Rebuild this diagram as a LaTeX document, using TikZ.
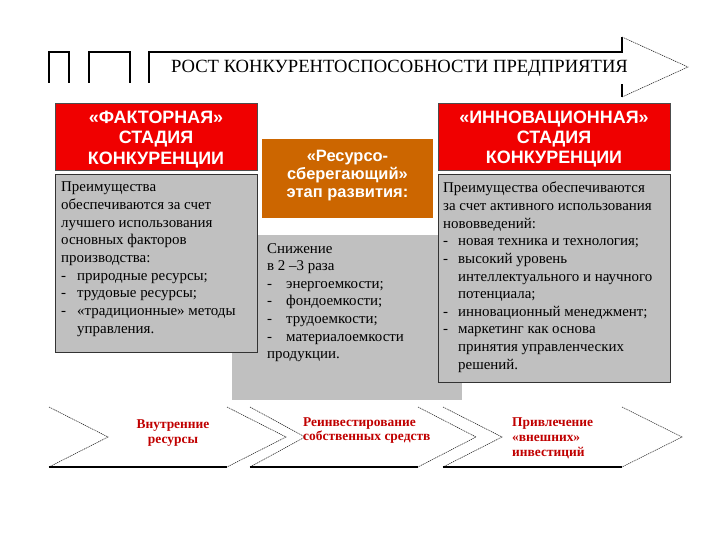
\documentclass[tikz,border=0pt]{standalone}
\usepackage{fontspec}
\setmainfont{Liberation Serif}
\newfontfamily\hsans{Liberation Sans}
\definecolor{hdred}{RGB}{240,0,0}
\definecolor{hdorange}{RGB}{204,102,0}
\definecolor{boxgray}{RGB}{192,192,192}
\definecolor{chevred}{RGB}{192,0,0}
\newcommand\itm[2]{\makebox[#1][l]{-}#2}
\begin{document}
\begin{tikzpicture}[x=1bp,y=-1bp,
  solidln/.style={line width=1.4bp, black},
  dotln/.style={line width=0.6bp, black!85, dash pattern=on 1.2bp off 0.8bp},
  boxnode/.style={inner sep=0, anchor=north west, outer sep=0},
  headtext/.style={inner sep=0, text=white, align=center, font=\hsans\bfseries\fontsize{18}{20.5}\selectfont},
  orangetext/.style={inner sep=0, text=white, align=center, font=\hsans\bfseries\fontsize{16.5}{18.5}\selectfont},
  bodytext/.style={inner sep=0, anchor=north west, align=left, font=\fontsize{15}{17.7}\selectfont},
  chevtext/.style={inner sep=0, text=chevred, font=\bfseries\fontsize{13.5}{15}\selectfont},
  titletext/.style={inner sep=0, font=\fontsize{18.7}{20}\selectfont}]
\useasboundingbox (0,0) rectangle (720,540);
% top arrow
\draw[solidln] (49,83) -- (49,52) -- (69,52) -- (69,83);
\draw[solidln] (89,83) -- (89,52) -- (130,52) -- (130,83);
\draw[solidln] (149,83) -- (149,52) -- (622,52) -- (622,37);
\draw[dotln] (622,37) -- (688,67) -- (622,97);
\draw[solidln] (622,97) -- (622,84);
\node[titletext] (title) at (399.5,68.5) {РОСТ КОНКУРЕНТОСПОСОБНОСТИ ПРЕДПРИЯТИЯ};
% middle gray background
\node[boxnode, fill=boxgray, minimum width=230bp, minimum height=165bp] (mg) at (232,235) {};
% left column
\node[boxnode, fill=hdred, draw=black!70, line width=0.8bp, minimum width=202bp, minimum height=67bp] (lr) at (55,103) {};
\node[headtext] (lrt) at (156,139.5) {«ФАКТОРНАЯ»\\СТАДИЯ\\КОНКУРЕНЦИИ};
\node[boxnode, fill=boxgray, draw=black!80, line width=0.9bp, minimum width=202bp, minimum height=178bp] (lg) at (55,174) {};
\node[bodytext] (lgt) at (61,182) {Преимущества\\обеспечиваются за счет\\лучшего использования\\основных факторов\\производства:\\\itm{16bp}{природные ресурсы;}\\\itm{16bp}{трудовые ресурсы;}\\\itm{16bp}{«традиционные» методы}\\\hspace*{16bp}управления.};
% middle column
\node[boxnode, fill=hdorange, minimum width=171bp, minimum height=79bp] (mo) at (262,139) {};
\node[orangetext] (mot) at (347.5,175.5) {«Ресурсо-\\сберегающий»\\этап развития:};
\node[bodytext] (mgt) at (267,243) {Снижение\\в 2 –3 раза\\\itm{19bp}{энергоемкости;}\\\itm{19bp}{фондоемкости;}\\\itm{19bp}{трудоемкости;}\\\itm{19bp}{материалоемкости}\\продукции.};
% right column
\node[boxnode, fill=hdred, draw=black!70, line width=0.8bp, minimum width=232bp, minimum height=67bp] (rr) at (438,103) {};
\node[headtext] (rrt) at (554,139) {«ИННОВАЦИОННАЯ»\\СТАДИЯ\\КОНКУРЕНЦИИ};
\node[boxnode, fill=boxgray, draw=black!80, line width=0.9bp, minimum width=232bp, minimum height=208bp] (rg) at (438,174) {};
\node[bodytext] (rgt) at (443,182) {Преимущества обеспечиваются\\за счет активного использования\\нововведений:\\\itm{15bp}{новая техника и технология;}\\\itm{15bp}{высокий уровень}\\\hspace*{15bp}интеллектуального и научного\\\hspace*{15bp}потенциала;\\\itm{15bp}{инновационный менеджмент;}\\\itm{15bp}{маркетинг как основа}\\\hspace*{15bp}принятия управленческих\\\hspace*{15bp}решений.};
% chevrons
\draw[dotln] (49,407) -- (108,437) -- (49,467);
\draw[solidln] (49,467) -- (227,467);
\draw[dotln] (227,407) -- (286,437) -- (227,467);
\draw[dotln] (250,407) -- (305,437) -- (250,467);
\draw[solidln] (250,467) -- (418,467);
\draw[dotln] (418,407) -- (476,437) -- (418,467);
\draw[dotln] (443,407) -- (502,437) -- (443,467);
\draw[solidln] (443,467) -- (622,467);
\draw[dotln] (622,407) -- (682,437) -- (622,467);
\node[chevtext, align=center] (c1) at (173,433) {Внутренние\\ресурсы};
\node[chevtext, align=left, anchor=west] (c2) at (303,430.5) {Реинвестирование\\собственных средств};
\node[chevtext, align=left, anchor=west] (c3) at (512,438) {Привлечение\\«внешних»\\инвестиций};
\end{tikzpicture}
\end{document}
